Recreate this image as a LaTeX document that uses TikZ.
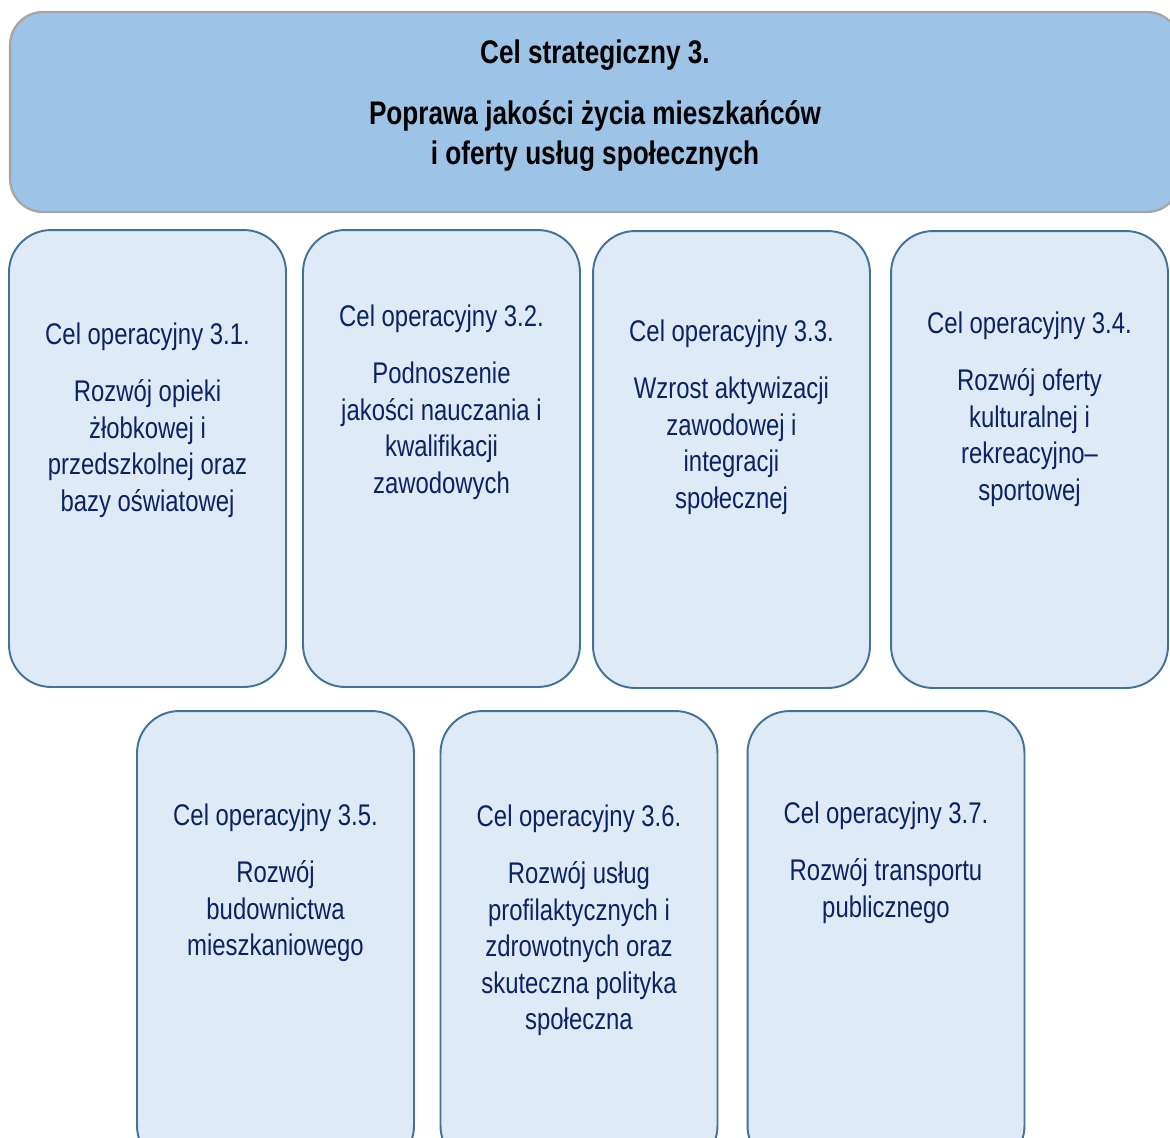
\documentclass[tikz,border=0pt]{standalone}
\usepackage{fontspec}
\setmainfont{Liberation Sans}[FakeStretch=0.8]
\usetikzlibrary{positioning}

\definecolor{topfill}{HTML}{9DC3E6}
\definecolor{topline}{HTML}{A5A5A5}
\definecolor{boxfill}{HTML}{DEEAF6}
\definecolor{boxline}{HTML}{41719C}
\definecolor{boxtext}{HTML}{0B2366}

\begin{document}
\begin{tikzpicture}[x=0.02cm, y=-0.02cm,
    top node/.style={rectangle,draw=topline,fill=topfill,line width=1.3pt,
      rounded corners=0.66cm,minimum width=23.4cm,minimum height=4cm},
    main node/.style={rectangle,draw=boxline,fill=boxfill,line width=1.1pt,
      rounded corners=0.84cm,minimum width=5.54cm,minimum height=9.14cm},
    top text/.style={anchor=north,inner sep=0pt,align=center,
      font=\fontsize{18.6pt}{22.8pt}\selectfont\bfseries},
    main text/.style={anchor=north,inner sep=0pt,align=center,text=boxtext,
      font=\fontsize{17pt}{20.8pt}\selectfont}]

  \useasboundingbox (0,0) rectangle (1170,1137);
  \clip (0,0) rectangle (1170,1137);

  % strategic goal
  \node[top node] (0) at (595,112) {};
  \node[top text] (t0) [below=0.57cm of 0.north]
    {Cel strategiczny 3.\\[12pt] Poprawa jakości życia mieszkańców\\ i oferty usług społecznych};

  % operational goals, first row
  \node[main node] (1) at (147.5,458.5) {};
  \node[main node] (2) at (441.5,458.5) {};
  \node[main node] (3) at (731.5,459.5) {};
  \node[main node] (4) at (1029.5,459.5) {};
  % second row
  \node[main node] (5) at (275.5,939.5) {};
  \node[main node] (6) at (579,939.5) {};
  \node[main node] (7) at (886,939.5) {};

  \node[main text] (t1) [below=1.86cm of 1.north]
    {Cel operacyjny 3.1.\\[12pt] Rozwój opieki\\ żłobkowej i\\ przedszkolnej oraz\\ bazy oświatowej};
  \node[main text] (t2) [below=1.5cm of 2.north]
    {Cel operacyjny 3.2.\\[12pt] Podnoszenie\\ jakości nauczania i\\ kwalifikacji\\ zawodowych};
  \node[main text] (t3) [below=1.78cm of 3.north]
    {Cel operacyjny 3.3.\\[12pt] Wzrost aktywizacji\\ zawodowej i\\ integracji\\ społecznej};
  \node[main text] (t4) [below=1.62cm of 4.north]
    {Cel operacyjny 3.4.\\[12pt] Rozwój oferty\\ kulturalnej i\\ rekreacyjno–\\ sportowej};
  \node[main text] (t5) [below=1.86cm of 5.north]
    {Cel operacyjny 3.5.\\[12pt] Rozwój\\ budownictwa\\ mieszkaniowego};
  \node[main text] (t6) [below=1.88cm of 6.north]
    {Cel operacyjny 3.6.\\[12pt] Rozwój usług\\ profilaktycznych i\\ zdrowotnych oraz\\ skuteczna polityka\\ społeczna};
  \node[main text] (t7) [below=1.82cm of 7.north]
    {Cel operacyjny 3.7.\\[12pt] Rozwój transportu\\ publicznego};

\end{tikzpicture}
\end{document}
